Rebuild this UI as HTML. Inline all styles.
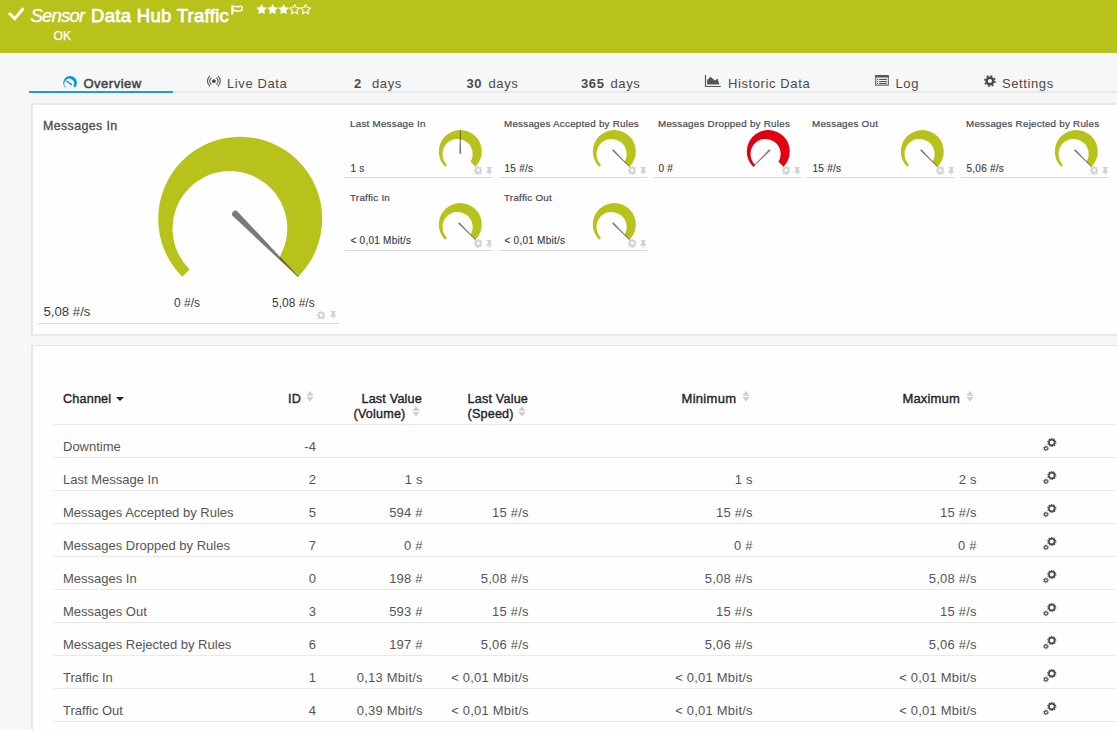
<!DOCTYPE html>
<html><head><meta charset="utf-8"><style>
*{margin:0;padding:0;box-sizing:border-box}
html,body{width:1117px;height:730px;overflow:hidden}
body{background:#f6f7f7;font-family:"Liberation Sans",sans-serif;position:relative}
.a{position:absolute;white-space:nowrap}
.hdr{position:absolute;left:0;top:0;width:1117px;height:53px;background:#b7c21b}
.tab{position:absolute;top:76px;font-size:13px;color:#4b4b4b;white-space:nowrap;line-height:15px;letter-spacing:0.6px}
.ct{position:absolute;font-size:9.8px;color:#474752;white-space:nowrap;line-height:12px;letter-spacing:0.25px;-webkit-text-stroke:0.2px #474752}
.cv{position:absolute;font-size:10px;color:#3c3c44;white-space:nowrap;line-height:12px;letter-spacing:0.25px;-webkit-text-stroke:0.15px #3c3c44}
.ul{position:absolute;height:1px;background:#d9d9d9}
.td{position:absolute;font-size:13px;color:#555;white-space:nowrap;line-height:15px}
.td.r{text-align:right;letter-spacing:0.22px}
.rl{position:absolute;left:53px;width:1063px;height:1px;background:#e9e9e9}
.th{position:absolute;font-size:12.6px;font-weight:normal;color:#1f1f2e;white-space:nowrap;line-height:14.5px;-webkit-text-stroke:0.38px #1f1f2e;letter-spacing:0.2px}
</style></head><body>
<div class="hdr"></div>
<svg style="position:absolute;left:8px;top:7px" width="17" height="14" viewBox="0 0 17 14"><path d="M1 6L6.8 11.6L15.4 1.2" fill="none" stroke="#fff" stroke-width="3"/></svg>
<div class="a" style="left:30.5px;top:4.5px;font-size:18.5px;font-style:italic;color:#fff;line-height:21px;letter-spacing:-0.8px;-webkit-text-stroke:0.3px #fff">Sensor</div>
<div class="a" style="left:91px;top:4.5px;font-size:18.5px;color:#fff;line-height:21px;letter-spacing:0.3px;-webkit-text-stroke:0.75px #fff">Data Hub Traffic</div>
<svg style="position:absolute;left:228px;top:2px" width="18" height="16" viewBox="0 0 18 16"><rect x="3.3" y="3.1" width="2" height="9.6" fill="#fff"/><path d="M5 4.7C7 3.7 9 5.3 11 4.5C12 4.1 13 4 13.8 4.3V8.6C12.5 8.3 11.5 9.2 10 9.1C8 9 7 8.1 5 8.8Z" fill="none" stroke="#fff" stroke-width="1.4"/></svg>
<svg style="position:absolute;left:256px;top:4px" width="56" height="12" viewBox="0 0 56 12"><polygon points="5.60,-0.10 7.25,3.33 11.02,3.84 8.26,6.47 8.95,10.21 5.60,8.40 2.25,10.21 2.94,6.47 0.18,3.84 3.95,3.33" fill="#fff"/><polygon points="16.60,-0.10 18.25,3.33 22.02,3.84 19.26,6.47 19.95,10.21 16.60,8.40 13.25,10.21 13.94,6.47 11.18,3.84 14.95,3.33" fill="#fff"/><polygon points="27.60,-0.10 29.25,3.33 33.02,3.84 30.26,6.47 30.95,10.21 27.60,8.40 24.25,10.21 24.94,6.47 22.18,3.84 25.95,3.33" fill="#fff"/><polygon points="38.60,0.60 40.07,3.58 43.36,4.05 40.98,6.37 41.54,9.65 38.60,8.10 35.66,9.65 36.22,6.37 33.84,4.05 37.13,3.58" fill="none" stroke="#fff" stroke-width="1.1"/><polygon points="49.60,0.60 51.07,3.58 54.36,4.05 51.98,6.37 52.54,9.65 49.60,8.10 46.66,9.65 47.22,6.37 44.84,4.05 48.13,3.58" fill="none" stroke="#fff" stroke-width="1.1"/></svg>
<div class="a" style="left:53.5px;top:30px;font-size:12.3px;color:#fff;line-height:13px;-webkit-text-stroke:0.25px #fff">OK</div>

<div class="a" style="left:29px;top:91px;width:1088px;height:2px;background:#e8e8e8"></div>
<div class="a" style="left:29px;top:91px;width:144px;height:2px;background:#1c9cd8"></div>
<svg style="position:absolute;left:0;top:0" width="100" height="100" viewBox="0 0 100 100"><path fill="#0e97d6" d="M65.22 87.68 A6.90 6.90 0 1 1 74.98 87.68 L73.38 86.08 A4.83 4.83 0 1 0 65.84 87.06 Z"/><path d="M66.7 81.1L71.6 84.6" stroke="#0e97d6" stroke-width="1.3" stroke-linecap="round"/></svg>
<div class="tab" style="left:83.5px;font-size:13px;color:#444;-webkit-text-stroke:0.5px #444;letter-spacing:0.5px">Overview</div>
<svg style="position:absolute;left:200px;top:70px" width="30" height="22" viewBox="200 70 30 22"><circle cx="213.9" cy="81.1" r="1.9" fill="#444"/><g fill="none" stroke="#555" stroke-width="1.1"><path d="M216.4 77.7A4.2 4.2 0 0 1 216.4 84.5M211.4 77.7A4.2 4.2 0 0 0 211.4 84.5"/><path d="M217.8 75.9A6.6 6.6 0 0 1 217.8 86.3M210 75.9A6.6 6.6 0 0 0 210 86.3"/></g></svg>
<div class="tab" style="left:227px">Live Data</div>
<div class="tab" style="left:354px"><b>2</b></div><div class="tab" style="left:372px">days</div>
<div class="tab" style="left:466.5px"><b>30</b></div><div class="tab" style="left:488.5px">days</div>
<div class="tab" style="left:581px"><b>365</b></div><div class="tab" style="left:610.5px">days</div>
<svg style="position:absolute;left:702px;top:72px" width="22" height="18" viewBox="0 0 22 18"><path fill="#555" d="M2.9 3H4.1V13.9H18.8V15H2.9z M5.2 12.6V8.1L8.4 4.7L13.1 8.5L15.6 6.4L17.3 12.6z"/></svg>
<div class="tab" style="left:728px">Historic Data</div>
<svg style="position:absolute;left:872px;top:72px" width="22" height="18" viewBox="0 0 22 18"><rect x="3.7" y="3.7" width="12.6" height="9.5" fill="none" stroke="#555" stroke-width="1"/><rect x="3.2" y="3.2" width="13.6" height="2.3" fill="#555"/><g fill="#555"><rect x="4.9" y="6.9" width="1.1" height="1.1"/><rect x="4.9" y="9" width="1.1" height="1.1"/><rect x="4.9" y="11" width="1.1" height="1.1"/><rect x="6.9" y="6.9" width="8" height="1.1"/><rect x="6.9" y="9" width="8" height="1.1"/><rect x="6.9" y="11" width="8" height="1.1"/></g></svg>
<div class="tab" style="left:895.5px">Log</div>
<svg style="position:absolute;left:980px;top:72px" width="20" height="18" viewBox="0 0 20 18"><g fill="none" stroke="#4a4a4a"><circle cx="9.9" cy="9" r="3.3" stroke-width="2.5"/><circle cx="9.9" cy="9" r="5.1" stroke-width="1.6" stroke-dasharray="1.9 2.1"/></g></svg>
<div class="tab" style="left:1002px">Settings</div>

<!-- panel 1 -->
<div class="a" style="left:31px;top:103px;width:1100px;height:233px;background:#e8e8e8"></div>
<div class="a" style="left:33px;top:105px;width:1100px;height:228.6px;background:#fefefe"></div>
<div class="a" style="left:43px;top:119px;font-size:12.4px;color:#4a4a55;line-height:14px;-webkit-text-stroke:0.3px #4a4a55;letter-spacing:0.4px">Messages In</div>
<div class="a" style="left:174px;top:296px;font-size:12px;color:#3c3c44;line-height:14px">0 #/s</div>
<div class="a" style="left:272px;top:296px;font-size:12px;color:#3c3c44;line-height:14px">5,08 #/s</div>
<div class="a" style="left:43.5px;top:305px;font-size:13.2px;color:#3c3c44;line-height:14px">5,08 #/s</div>
<div class="ul" style="left:38px;top:323px;width:301px"></div>
<svg style="position:absolute;left:316.5px;top:310.8px" width="8.4" height="8.4" viewBox="0 0 16 16"><path fill="#d2d2d2" d="M6.6 0h2.8l.4 2.3 1.3.6 1.9-1.3 2 2-1.4 1.9.6 1.3 2.3.4v2.8l-2.3.4-.6 1.3 1.4 1.9-2 2-1.9-1.4-1.3.6-.4 2.3H6.6l-.4-2.3-1.3-.6-1.9 1.4-2-2 1.4-1.9-.6-1.3L0 9.4V6.6l2.3-.4.6-1.3-1.4-1.9 2-2 1.9 1.3 1.3-.6zM8 5a3 3 0 1 0 0 6 3 3 0 0 0 0-6z"/></svg>
<svg style="position:absolute;left:330px;top:310.8px" width="6.5" height="8.5" viewBox="0 0 8 9" preserveAspectRatio="none"><path fill="#d2d2d2" d="M1 0h6v1H6v3l2 1.5V6H4.6v3h-1.2V6H0v-.5L2 4V1H1z"/></svg>
<div class="ct" style="left:350px;top:117.9px">Last Message In</div><div class="cv" style="left:350.5px;top:162.7px">1 s</div><div class="ul" style="left:345px;top:177px;width:148px"></div><svg style="position:absolute;left:473.5px;top:166.3px" width="8.4" height="8.4" viewBox="0 0 16 16"><path fill="#d2d2d2" d="M6.6 0h2.8l.4 2.3 1.3.6 1.9-1.3 2 2-1.4 1.9.6 1.3 2.3.4v2.8l-2.3.4-.6 1.3 1.4 1.9-2 2-1.9-1.4-1.3.6-.4 2.3H6.6l-.4-2.3-1.3-.6-1.9 1.4-2-2 1.4-1.9-.6-1.3L0 9.4V6.6l2.3-.4.6-1.3-1.4-1.9 2-2 1.9 1.3 1.3-.6zM8 5a3 3 0 1 0 0 6 3 3 0 0 0 0-6z"/></svg><svg style="position:absolute;left:485.5px;top:166.6px" width="6.5" height="8.5" viewBox="0 0 8 9" preserveAspectRatio="none"><path fill="#d2d2d2" d="M1 0h6v1H6v3l2 1.5V6H4.6v3h-1.2V6H0v-.5L2 4V1H1z"/></svg><div class="ct" style="left:504px;top:117.9px">Messages Accepted by Rules</div><div class="cv" style="left:504.5px;top:162.7px">15 #/s</div><div class="ul" style="left:499px;top:177px;width:148px"></div><svg style="position:absolute;left:627.5px;top:166.3px" width="8.4" height="8.4" viewBox="0 0 16 16"><path fill="#d2d2d2" d="M6.6 0h2.8l.4 2.3 1.3.6 1.9-1.3 2 2-1.4 1.9.6 1.3 2.3.4v2.8l-2.3.4-.6 1.3 1.4 1.9-2 2-1.9-1.4-1.3.6-.4 2.3H6.6l-.4-2.3-1.3-.6-1.9 1.4-2-2 1.4-1.9-.6-1.3L0 9.4V6.6l2.3-.4.6-1.3-1.4-1.9 2-2 1.9 1.3 1.3-.6zM8 5a3 3 0 1 0 0 6 3 3 0 0 0 0-6z"/></svg><svg style="position:absolute;left:639.5px;top:166.6px" width="6.5" height="8.5" viewBox="0 0 8 9" preserveAspectRatio="none"><path fill="#d2d2d2" d="M1 0h6v1H6v3l2 1.5V6H4.6v3h-1.2V6H0v-.5L2 4V1H1z"/></svg><div class="ct" style="left:658px;top:117.9px">Messages Dropped by Rules</div><div class="cv" style="left:658.5px;top:162.7px">0 #</div><div class="ul" style="left:653px;top:177px;width:148px"></div><svg style="position:absolute;left:781.5px;top:166.3px" width="8.4" height="8.4" viewBox="0 0 16 16"><path fill="#d2d2d2" d="M6.6 0h2.8l.4 2.3 1.3.6 1.9-1.3 2 2-1.4 1.9.6 1.3 2.3.4v2.8l-2.3.4-.6 1.3 1.4 1.9-2 2-1.9-1.4-1.3.6-.4 2.3H6.6l-.4-2.3-1.3-.6-1.9 1.4-2-2 1.4-1.9-.6-1.3L0 9.4V6.6l2.3-.4.6-1.3-1.4-1.9 2-2 1.9 1.3 1.3-.6zM8 5a3 3 0 1 0 0 6 3 3 0 0 0 0-6z"/></svg><svg style="position:absolute;left:793.5px;top:166.6px" width="6.5" height="8.5" viewBox="0 0 8 9" preserveAspectRatio="none"><path fill="#d2d2d2" d="M1 0h6v1H6v3l2 1.5V6H4.6v3h-1.2V6H0v-.5L2 4V1H1z"/></svg><div class="ct" style="left:812px;top:117.9px">Messages Out</div><div class="cv" style="left:812.5px;top:162.7px">15 #/s</div><div class="ul" style="left:807px;top:177px;width:148px"></div><svg style="position:absolute;left:935.5px;top:166.3px" width="8.4" height="8.4" viewBox="0 0 16 16"><path fill="#d2d2d2" d="M6.6 0h2.8l.4 2.3 1.3.6 1.9-1.3 2 2-1.4 1.9.6 1.3 2.3.4v2.8l-2.3.4-.6 1.3 1.4 1.9-2 2-1.9-1.4-1.3.6-.4 2.3H6.6l-.4-2.3-1.3-.6-1.9 1.4-2-2 1.4-1.9-.6-1.3L0 9.4V6.6l2.3-.4.6-1.3-1.4-1.9 2-2 1.9 1.3 1.3-.6zM8 5a3 3 0 1 0 0 6 3 3 0 0 0 0-6z"/></svg><svg style="position:absolute;left:947.5px;top:166.6px" width="6.5" height="8.5" viewBox="0 0 8 9" preserveAspectRatio="none"><path fill="#d2d2d2" d="M1 0h6v1H6v3l2 1.5V6H4.6v3h-1.2V6H0v-.5L2 4V1H1z"/></svg><div class="ct" style="left:966px;top:117.9px">Messages Rejected by Rules</div><div class="cv" style="left:966.5px;top:162.7px">5,06 #/s</div><div class="ul" style="left:961px;top:177px;width:148px"></div><svg style="position:absolute;left:1089.5px;top:166.3px" width="8.4" height="8.4" viewBox="0 0 16 16"><path fill="#d2d2d2" d="M6.6 0h2.8l.4 2.3 1.3.6 1.9-1.3 2 2-1.4 1.9.6 1.3 2.3.4v2.8l-2.3.4-.6 1.3 1.4 1.9-2 2-1.9-1.4-1.3.6-.4 2.3H6.6l-.4-2.3-1.3-.6-1.9 1.4-2-2 1.4-1.9-.6-1.3L0 9.4V6.6l2.3-.4.6-1.3-1.4-1.9 2-2 1.9 1.3 1.3-.6zM8 5a3 3 0 1 0 0 6 3 3 0 0 0 0-6z"/></svg><svg style="position:absolute;left:1101.5px;top:166.6px" width="6.5" height="8.5" viewBox="0 0 8 9" preserveAspectRatio="none"><path fill="#d2d2d2" d="M1 0h6v1H6v3l2 1.5V6H4.6v3h-1.2V6H0v-.5L2 4V1H1z"/></svg><div class="ct" style="left:350px;top:191.9px">Traffic In</div><div class="cv" style="left:350.5px;top:235.2px">&lt; 0,01 Mbit/s</div><div class="ul" style="left:345px;top:250px;width:148px"></div><svg style="position:absolute;left:473.5px;top:239.3px" width="8.4" height="8.4" viewBox="0 0 16 16"><path fill="#d2d2d2" d="M6.6 0h2.8l.4 2.3 1.3.6 1.9-1.3 2 2-1.4 1.9.6 1.3 2.3.4v2.8l-2.3.4-.6 1.3 1.4 1.9-2 2-1.9-1.4-1.3.6-.4 2.3H6.6l-.4-2.3-1.3-.6-1.9 1.4-2-2 1.4-1.9-.6-1.3L0 9.4V6.6l2.3-.4.6-1.3-1.4-1.9 2-2 1.9 1.3 1.3-.6zM8 5a3 3 0 1 0 0 6 3 3 0 0 0 0-6z"/></svg><svg style="position:absolute;left:485.5px;top:239.6px" width="6.5" height="8.5" viewBox="0 0 8 9" preserveAspectRatio="none"><path fill="#d2d2d2" d="M1 0h6v1H6v3l2 1.5V6H4.6v3h-1.2V6H0v-.5L2 4V1H1z"/></svg><div class="ct" style="left:504px;top:191.9px">Traffic Out</div><div class="cv" style="left:504.5px;top:235.2px">&lt; 0,01 Mbit/s</div><div class="ul" style="left:499px;top:250px;width:148px"></div><svg style="position:absolute;left:627.5px;top:239.3px" width="8.4" height="8.4" viewBox="0 0 16 16"><path fill="#d2d2d2" d="M6.6 0h2.8l.4 2.3 1.3.6 1.9-1.3 2 2-1.4 1.9.6 1.3 2.3.4v2.8l-2.3.4-.6 1.3 1.4 1.9-2 2-1.9-1.4-1.3.6-.4 2.3H6.6l-.4-2.3-1.3-.6-1.9 1.4-2-2 1.4-1.9-.6-1.3L0 9.4V6.6l2.3-.4.6-1.3-1.4-1.9 2-2 1.9 1.3 1.3-.6zM8 5a3 3 0 1 0 0 6 3 3 0 0 0 0-6z"/></svg><svg style="position:absolute;left:639.5px;top:239.6px" width="6.5" height="8.5" viewBox="0 0 8 9" preserveAspectRatio="none"><path fill="#d2d2d2" d="M1 0h6v1H6v3l2 1.5V6H4.6v3h-1.2V6H0v-.5L2 4V1H1z"/></svg>

<!-- panel 2 -->
<div class="a" style="left:31px;top:345px;width:1100px;height:400px;background:#e8e8e8"></div>
<div class="a" style="left:33px;top:346px;width:1100px;height:400px;background:#fefefe"></div>
<div class="th" style="left:63px;top:392px">Channel</div>
<svg style="position:absolute;left:116px;top:397px" width="8" height="4" viewBox="0 0 8 4"><path d="M0 0H8L4 4z" fill="#1f1f2e"/></svg>
<div class="th" style="left:288px;top:392px">ID</div>
<svg style="position:absolute;left:305.6px;top:391.2px" width="8" height="11" viewBox="0 0 8 11"><path fill="#cfcfcf" d="M4 0L7.7 4.7H0.3zM0.3 6H7.7L4 10.7z"/></svg>
<div class="th" style="right:695px;top:392px;text-align:right">Last Value<br>(Volume)<span style="display:inline-block;width:16.5px"></span></div>
<svg style="position:absolute;left:411.8px;top:406.4px" width="8" height="11" viewBox="0 0 8 11"><path fill="#cfcfcf" d="M4 0L7.7 4.7H0.3zM0.3 6H7.7L4 10.7z"/></svg>
<div class="th" style="left:467.5px;top:392px">Last Value<br>(Speed)</div>
<svg style="position:absolute;left:517.8px;top:406.4px" width="8" height="11" viewBox="0 0 8 11"><path fill="#cfcfcf" d="M4 0L7.7 4.7H0.3zM0.3 6H7.7L4 10.7z"/></svg>
<div class="th" style="left:681.5px;top:392px;font-size:13px;letter-spacing:0.3px">Minimum</div>
<svg style="position:absolute;left:742px;top:391.2px" width="8" height="11" viewBox="0 0 8 11"><path fill="#cfcfcf" d="M4 0L7.7 4.7H0.3zM0.3 6H7.7L4 10.7z"/></svg>
<div class="th" style="left:902.5px;top:392px;font-size:13px;letter-spacing:0.15px">Maximum</div>
<svg style="position:absolute;left:966.2px;top:391.2px" width="8" height="11" viewBox="0 0 8 11"><path fill="#cfcfcf" d="M4 0L7.7 4.7H0.3zM0.3 6H7.7L4 10.7z"/></svg>
<div class="rl" style="top:424px"></div>
<div class="td" style="left:63px;top:439px">Downtime</div><div class="td r" style="right:800.7px;top:439px">-4</div><div class="rl" style="top:457px"></div><svg style="position:absolute;left:1038px;top:434px" width="20" height="18" viewBox="0 0 20 18"><g fill="none" stroke="#4d4d4d"><circle cx="13.8" cy="8.5" r="2.85" stroke-width="1.75"/><circle cx="13.8" cy="8.5" r="4.05" stroke-width="1.1" stroke-dasharray="1.25 1.295"/><circle cx="7.9" cy="14.4" r="1.5" stroke-width="1.1"/><circle cx="7.9" cy="14.4" r="2.4" stroke-width="0.9" stroke-dasharray="0.9 0.9"/></g></svg><div class="td" style="left:63px;top:472px">Last Message In</div><div class="td r" style="right:800.7px;top:472px">2</div><div class="td r" style="right:694.2px;top:472px">1 s</div><div class="td r" style="right:364.20000000000005px;top:472px">1 s</div><div class="td r" style="right:140.20000000000005px;top:472px">2 s</div><div class="rl" style="top:490px"></div><svg style="position:absolute;left:1038px;top:467px" width="20" height="18" viewBox="0 0 20 18"><g fill="none" stroke="#4d4d4d"><circle cx="13.8" cy="8.5" r="2.85" stroke-width="1.75"/><circle cx="13.8" cy="8.5" r="4.05" stroke-width="1.1" stroke-dasharray="1.25 1.295"/><circle cx="7.9" cy="14.4" r="1.5" stroke-width="1.1"/><circle cx="7.9" cy="14.4" r="2.4" stroke-width="0.9" stroke-dasharray="0.9 0.9"/></g></svg><div class="td" style="left:63px;top:505px">Messages Accepted by Rules</div><div class="td r" style="right:800.7px;top:505px">5</div><div class="td r" style="right:694.2px;top:505px">594 #</div><div class="td r" style="right:588.2px;top:505px">15 #/s</div><div class="td r" style="right:364.20000000000005px;top:505px">15 #/s</div><div class="td r" style="right:140.20000000000005px;top:505px">15 #/s</div><div class="rl" style="top:523px"></div><svg style="position:absolute;left:1038px;top:500px" width="20" height="18" viewBox="0 0 20 18"><g fill="none" stroke="#4d4d4d"><circle cx="13.8" cy="8.5" r="2.85" stroke-width="1.75"/><circle cx="13.8" cy="8.5" r="4.05" stroke-width="1.1" stroke-dasharray="1.25 1.295"/><circle cx="7.9" cy="14.4" r="1.5" stroke-width="1.1"/><circle cx="7.9" cy="14.4" r="2.4" stroke-width="0.9" stroke-dasharray="0.9 0.9"/></g></svg><div class="td" style="left:63px;top:538px">Messages Dropped by Rules</div><div class="td r" style="right:800.7px;top:538px">7</div><div class="td r" style="right:694.2px;top:538px">0 #</div><div class="td r" style="right:364.20000000000005px;top:538px">0 #</div><div class="td r" style="right:140.20000000000005px;top:538px">0 #</div><div class="rl" style="top:556px"></div><svg style="position:absolute;left:1038px;top:533px" width="20" height="18" viewBox="0 0 20 18"><g fill="none" stroke="#4d4d4d"><circle cx="13.8" cy="8.5" r="2.85" stroke-width="1.75"/><circle cx="13.8" cy="8.5" r="4.05" stroke-width="1.1" stroke-dasharray="1.25 1.295"/><circle cx="7.9" cy="14.4" r="1.5" stroke-width="1.1"/><circle cx="7.9" cy="14.4" r="2.4" stroke-width="0.9" stroke-dasharray="0.9 0.9"/></g></svg><div class="td" style="left:63px;top:571px">Messages In</div><div class="td r" style="right:800.7px;top:571px">0</div><div class="td r" style="right:694.2px;top:571px">198 #</div><div class="td r" style="right:588.2px;top:571px">5,08 #/s</div><div class="td r" style="right:364.20000000000005px;top:571px">5,08 #/s</div><div class="td r" style="right:140.20000000000005px;top:571px">5,08 #/s</div><div class="rl" style="top:589px"></div><svg style="position:absolute;left:1038px;top:566px" width="20" height="18" viewBox="0 0 20 18"><g fill="none" stroke="#4d4d4d"><circle cx="13.8" cy="8.5" r="2.85" stroke-width="1.75"/><circle cx="13.8" cy="8.5" r="4.05" stroke-width="1.1" stroke-dasharray="1.25 1.295"/><circle cx="7.9" cy="14.4" r="1.5" stroke-width="1.1"/><circle cx="7.9" cy="14.4" r="2.4" stroke-width="0.9" stroke-dasharray="0.9 0.9"/></g></svg><div class="td" style="left:63px;top:604px">Messages Out</div><div class="td r" style="right:800.7px;top:604px">3</div><div class="td r" style="right:694.2px;top:604px">593 #</div><div class="td r" style="right:588.2px;top:604px">15 #/s</div><div class="td r" style="right:364.20000000000005px;top:604px">15 #/s</div><div class="td r" style="right:140.20000000000005px;top:604px">15 #/s</div><div class="rl" style="top:622px"></div><svg style="position:absolute;left:1038px;top:599px" width="20" height="18" viewBox="0 0 20 18"><g fill="none" stroke="#4d4d4d"><circle cx="13.8" cy="8.5" r="2.85" stroke-width="1.75"/><circle cx="13.8" cy="8.5" r="4.05" stroke-width="1.1" stroke-dasharray="1.25 1.295"/><circle cx="7.9" cy="14.4" r="1.5" stroke-width="1.1"/><circle cx="7.9" cy="14.4" r="2.4" stroke-width="0.9" stroke-dasharray="0.9 0.9"/></g></svg><div class="td" style="left:63px;top:637px">Messages Rejected by Rules</div><div class="td r" style="right:800.7px;top:637px">6</div><div class="td r" style="right:694.2px;top:637px">197 #</div><div class="td r" style="right:588.2px;top:637px">5,06 #/s</div><div class="td r" style="right:364.20000000000005px;top:637px">5,06 #/s</div><div class="td r" style="right:140.20000000000005px;top:637px">5,06 #/s</div><div class="rl" style="top:655px"></div><svg style="position:absolute;left:1038px;top:632px" width="20" height="18" viewBox="0 0 20 18"><g fill="none" stroke="#4d4d4d"><circle cx="13.8" cy="8.5" r="2.85" stroke-width="1.75"/><circle cx="13.8" cy="8.5" r="4.05" stroke-width="1.1" stroke-dasharray="1.25 1.295"/><circle cx="7.9" cy="14.4" r="1.5" stroke-width="1.1"/><circle cx="7.9" cy="14.4" r="2.4" stroke-width="0.9" stroke-dasharray="0.9 0.9"/></g></svg><div class="td" style="left:63px;top:670px">Traffic In</div><div class="td r" style="right:800.7px;top:670px">1</div><div class="td r" style="right:694.2px;top:670px">0,13 Mbit/s</div><div class="td r" style="right:588.2px;top:670px">&lt; 0,01 Mbit/s</div><div class="td r" style="right:364.20000000000005px;top:670px">&lt; 0,01 Mbit/s</div><div class="td r" style="right:140.20000000000005px;top:670px">&lt; 0,01 Mbit/s</div><div class="rl" style="top:688px"></div><svg style="position:absolute;left:1038px;top:665px" width="20" height="18" viewBox="0 0 20 18"><g fill="none" stroke="#4d4d4d"><circle cx="13.8" cy="8.5" r="2.85" stroke-width="1.75"/><circle cx="13.8" cy="8.5" r="4.05" stroke-width="1.1" stroke-dasharray="1.25 1.295"/><circle cx="7.9" cy="14.4" r="1.5" stroke-width="1.1"/><circle cx="7.9" cy="14.4" r="2.4" stroke-width="0.9" stroke-dasharray="0.9 0.9"/></g></svg><div class="td" style="left:63px;top:703px">Traffic Out</div><div class="td r" style="right:800.7px;top:703px">4</div><div class="td r" style="right:694.2px;top:703px">0,39 Mbit/s</div><div class="td r" style="right:588.2px;top:703px">&lt; 0,01 Mbit/s</div><div class="td r" style="right:364.20000000000005px;top:703px">&lt; 0,01 Mbit/s</div><div class="td r" style="right:140.20000000000005px;top:703px">&lt; 0,01 Mbit/s</div><div class="rl" style="top:721px"></div><svg style="position:absolute;left:1038px;top:698px" width="20" height="18" viewBox="0 0 20 18"><g fill="none" stroke="#4d4d4d"><circle cx="13.8" cy="8.5" r="2.85" stroke-width="1.75"/><circle cx="13.8" cy="8.5" r="4.05" stroke-width="1.1" stroke-dasharray="1.25 1.295"/><circle cx="7.9" cy="14.4" r="1.5" stroke-width="1.1"/><circle cx="7.9" cy="14.4" r="2.4" stroke-width="0.9" stroke-dasharray="0.9 0.9"/></g></svg>

<svg style="position:absolute;left:0;top:0" width="1117" height="730" viewBox="0 0 1117 730"><path fill="#b7c21b" d="M182.22 276.78 A82.00 82.00 0 1 1 298.18 276.78 L279.24 257.84 A57.40 57.40 0 1 0 189.61 269.39 Z"/><path fill="rgba(0,0,0,0.52)" d="M233.06 216.33 L297.90 277.07 L298.47 276.50 L237.73 211.66 A3.3 3.3 0 0 0 233.06 216.33 Z"/><path fill="#b7c21b" d="M445.10 166.70 A21.50 21.50 0 1 1 475.50 166.70 L470.54 161.74 A15.05 15.05 0 1 0 447.04 164.76 Z"/><path fill="rgba(0,0,0,0.52)" d="M461.20 153.70 L460.60 130.00 L460.00 130.00 L459.40 153.70 Z"/><path fill="#b7c21b" d="M599.10 166.70 A21.50 21.50 0 1 1 629.50 166.70 L624.54 161.74 A15.05 15.05 0 1 0 601.04 164.76 Z"/><path fill="rgba(0,0,0,0.52)" d="M612.11 150.58 L629.29 166.91 L629.71 166.49 L613.38 149.31 Z"/><path fill="#e1000f" d="M753.10 166.70 A21.50 21.50 0 1 1 783.50 166.70 L778.54 161.74 A15.05 15.05 0 1 0 755.04 164.76 Z"/><path fill="rgba(0,0,0,0.52)" d="M769.22 149.31 L752.89 166.49 L753.31 166.91 L770.49 150.58 Z"/><path fill="#b7c21b" d="M907.10 166.70 A21.50 21.50 0 1 1 937.50 166.70 L932.54 161.74 A15.05 15.05 0 1 0 909.04 164.76 Z"/><path fill="rgba(0,0,0,0.52)" d="M920.11 150.58 L937.29 166.91 L937.71 166.49 L921.38 149.31 Z"/><path fill="#b7c21b" d="M1061.10 166.70 A21.50 21.50 0 1 1 1091.50 166.70 L1086.54 161.74 A15.05 15.05 0 1 0 1063.04 164.76 Z"/><path fill="rgba(0,0,0,0.52)" d="M1074.11 150.58 L1091.29 166.91 L1091.71 166.49 L1075.38 149.31 Z"/><path fill="#b7c21b" d="M445.10 239.70 A21.50 21.50 0 1 1 475.50 239.70 L470.54 234.74 A15.05 15.05 0 1 0 447.04 237.76 Z"/><path fill="rgba(0,0,0,0.52)" d="M458.11 223.58 L475.29 239.91 L475.71 239.49 L459.38 222.31 Z"/><path fill="#b7c21b" d="M599.10 239.70 A21.50 21.50 0 1 1 629.50 239.70 L624.54 234.74 A15.05 15.05 0 1 0 601.04 237.76 Z"/><path fill="rgba(0,0,0,0.52)" d="M612.11 223.58 L629.29 239.91 L629.71 239.49 L613.38 222.31 Z"/></svg>
</body></html>
